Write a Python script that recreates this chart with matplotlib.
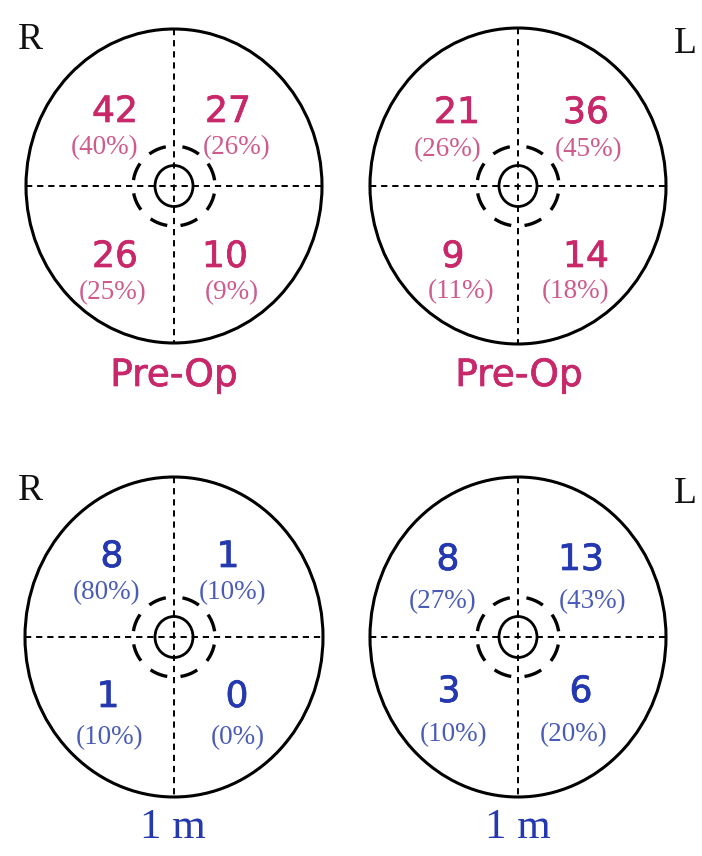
import matplotlib
matplotlib.use("Agg")
import matplotlib.pyplot as plt
import matplotlib.patheffects as pe
from matplotlib.patches import Ellipse

plt.rcParams['lines.scale_dashes'] = False

# counts and shares per quadrant: upper-left, upper-right, lower-left, lower-right
pre_r_counts = [42, 27, 26, 10]
pre_r_pcts = [40, 26, 25, 9]
pre_l_counts = [21, 36, 9, 14]
pre_l_pcts = [26, 45, 11, 18]
post_r_counts = [8, 1, 1, 0]
post_r_pcts = [80, 10, 10, 0]
post_l_counts = [8, 13, 3, 6]
post_l_pcts = [27, 43, 10, 20]

eyes = ["R", "L", "R", "L"]
times = ["Pre-Op", "Pre-Op", "1 m", "1 m"]

PINK = "#c8286a"
PINK_LIGHT = "#cf5a8c"
BLUE = "#2438b0"
BLUE_LIGHT = "#4a5cb8"

# layout in pixels (figure is 702 x 856)
centers = [(174, 186), (518, 186), (174, 637), (518, 637)]
radii = [(148, 157), (148, 158), (149, 160), (148, 160)]
num_pos = [
    [(115, 112), (228, 112), (115, 257), (225, 257)],
    [(457, 113), (586, 113), (453, 257), (586, 257)],
    [(112, 557), (228, 557), (108, 697), (237, 697)],
    [(448, 560), (581, 560), (449, 692), (581, 692)],
]
pct_pos = [
    [(105, 148), (237, 148), (113, 293), (232, 293)],
    [(448, 150), (589, 150), (461, 292), (576, 292)],
    [(107, 593), (233, 593), (110, 738), (238, 738)],
    [(443, 602), (593, 602), (454, 735), (574, 735)],
]
eye_pos = [(30, 40), (685, 44), (30, 491), (685, 494)]
time_pos = [(174, 376), (519, 376), (173, 828), (518, 828)]


def bold_ish(color):
    return [pe.withStroke(linewidth=0.5, foreground=color)]


def draw_panel(ax, i, counts, pcts, color, color_light):
    cx, cy = centers[i]
    rx, ry = radii[i]
    ax.add_patch(Ellipse((cx, cy), 2 * rx, 2 * ry, fill=False, lw=2.2, ec="black"))
    ax.plot([cx - rx, cx + rx], [cy, cy], color="black", lw=1.4, ls=(0, (4.5, 3.5)))
    ax.plot([cx, cx], [cy - ry, cy + ry], color="black", lw=1.4, ls=(0, (4.5, 3.5)))
    ax.add_patch(Ellipse((cx, cy), 38, 41, fill=False, lw=2.0, ec="black"))
    ax.add_patch(Ellipse((cx, cy), 82, 80, fill=False, lw=2.4, ec="black",
                         ls=(16.5, (13, 9.6))))
    for k in range(4):
        x, y = num_pos[i][k]
        ax.text(x, y, str(counts[k]), color=color, fontsize=26,
                ha="center", va="center", family="DejaVu Sans",
                path_effects=bold_ish(color))
        x, y = pct_pos[i][k]
        ax.text(x, y, "(%d%%)" % pcts[k], color=color_light, fontsize=19.5,
                ha="center", va="center", family="Liberation Serif")
    x, y = eye_pos[i]
    ax.text(x, y, eyes[i], fontsize=27, ha="center", va="center",
            family="Liberation Serif", color="#111111")
    x, y = time_pos[i]
    if times[i] == "Pre-Op":
        ax.text(x, y, times[i], color=color, fontsize=27, ha="center",
                va="center", family="DejaVu Sans", path_effects=bold_ish(color))
    else:
        ax.text(x, y, times[i], color=color, fontsize=31, ha="center",
                va="center", family="Liberation Serif")


fig = plt.figure(figsize=(7.02, 8.56), dpi=100)
ax = fig.add_axes([0, 0, 1, 1])
ax.set_xlim(0, 702)
ax.set_ylim(856, 0)
ax.axis("off")

draw_panel(ax, 0, pre_r_counts, pre_r_pcts, PINK, PINK_LIGHT)
draw_panel(ax, 1, pre_l_counts, pre_l_pcts, PINK, PINK_LIGHT)
draw_panel(ax, 2, post_r_counts, post_r_pcts, BLUE, BLUE_LIGHT)
draw_panel(ax, 3, post_l_counts, post_l_pcts, BLUE, BLUE_LIGHT)

fig.savefig("out.png", dpi=100, facecolor="white")
